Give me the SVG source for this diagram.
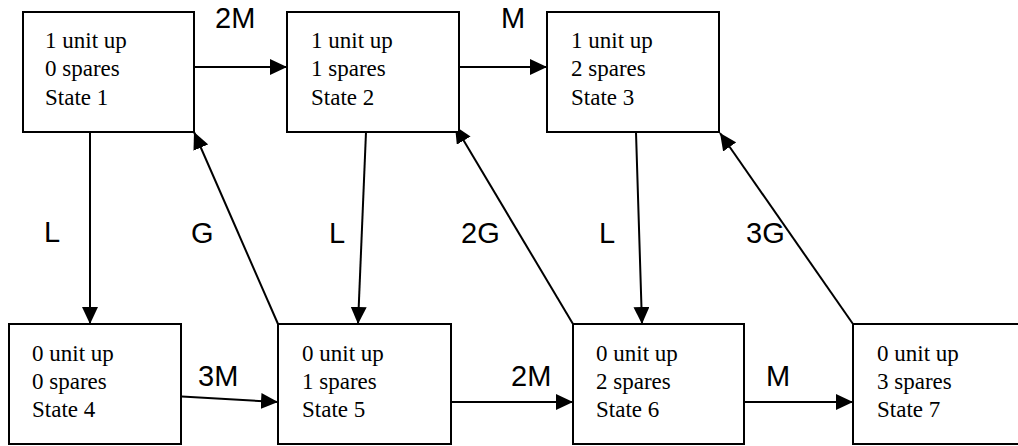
<svg xmlns="http://www.w3.org/2000/svg" width="1018" height="446" viewBox="0 0 1018 446">
<style>
.box{fill:#fff;stroke:#000;stroke-width:2}
.t{font-family:"Liberation Serif","Times New Roman",serif;font-size:23px;fill:#000}
.lbl{font-family:"Liberation Sans",Arial,sans-serif;font-size:29px;fill:#000}
.c{stroke:#000;stroke-width:2;fill:none;marker-end:url(#ah)}
</style>
<defs>
<marker id="ah" markerUnits="userSpaceOnUse" markerWidth="18" markerHeight="16" refX="17" refY="8" orient="auto" viewBox="0 0 18 16">
<path d="M0,0 L17,8 L0,16 z" fill="#000"/>
</marker>
</defs>
<rect width="1018" height="446" fill="#fff"/>
<g id="connectors">
<line class="c" x1="194" y1="67" x2="287" y2="67"/>
<line class="c" x1="459" y1="67" x2="547" y2="67"/>
<line class="c" x1="90" y1="132" x2="90" y2="324"/>
<line class="c" x1="278" y1="324" x2="194" y2="132"/>
<line class="c" x1="366" y1="132" x2="358" y2="324"/>
<line class="c" x1="573" y1="324" x2="455" y2="126"/>
<line class="c" x1="636" y1="132" x2="642" y2="324"/>
<line class="c" x1="853" y1="324" x2="720" y2="133"/>
<line class="c" x1="173" y1="396" x2="278" y2="402"/>
<line class="c" x1="451" y1="402" x2="573" y2="402"/>
<line class="c" x1="744" y1="402" x2="853" y2="402"/>
<text class="lbl" x="215" y="28">2M</text>
<text class="lbl" x="501" y="28">M</text>
<text class="lbl" x="44" y="242">L</text>
<text class="lbl" x="191" y="243">G</text>
<text class="lbl" x="329" y="243">L</text>
<text class="lbl" x="461" y="243">2G</text>
<text class="lbl" x="599" y="243">L</text>
<text class="lbl" x="746" y="243">3G</text>
<text class="lbl" x="198" y="386">3M</text>
<text class="lbl" x="511" y="386">2M</text>
<text class="lbl" x="766" y="386">M</text>
</g>
<g id="state1">
<rect class="box" x="23" y="12" width="171" height="120"/>
<text class="t" x="45" y="47.5">1 unit up</text>
<text class="t" x="45" y="76">0 spares</text>
<text class="t" x="45" y="104.5">State 1</text>
</g>
<g id="state2">
<rect class="box" x="287" y="12" width="172" height="120"/>
<text class="t" x="311" y="47.5">1 unit up</text>
<text class="t" x="311" y="76">1 spares</text>
<text class="t" x="311" y="104.5">State 2</text>
</g>
<g id="state3">
<rect class="box" x="547" y="12" width="172" height="120"/>
<text class="t" x="571" y="47.5">1 unit up</text>
<text class="t" x="571" y="76">2 spares</text>
<text class="t" x="571" y="104.5">State 3</text>
</g>
<g id="state4">
<rect class="box" x="9" y="324" width="172" height="120"/>
<text class="t" x="32" y="361">0 unit up</text>
<text class="t" x="32" y="389">0 spares</text>
<text class="t" x="32" y="417">State 4</text>
</g>
<g id="state5">
<rect class="box" x="278" y="324" width="173" height="120"/>
<text class="t" x="302" y="361">0 unit up</text>
<text class="t" x="302" y="389">1 spares</text>
<text class="t" x="302" y="417">State 5</text>
</g>
<g id="state6">
<rect class="box" x="573" y="324" width="171" height="120"/>
<text class="t" x="596" y="361">0 unit up</text>
<text class="t" x="596" y="389">2 spares</text>
<text class="t" x="596" y="417">State 6</text>
</g>
<g id="state7">
<rect class="box" x="853" y="324" width="172" height="120"/>
<text class="t" x="877" y="361">0 unit up</text>
<text class="t" x="877" y="389">3 spares</text>
<text class="t" x="877" y="417">State 7</text>
</g>
</svg>
